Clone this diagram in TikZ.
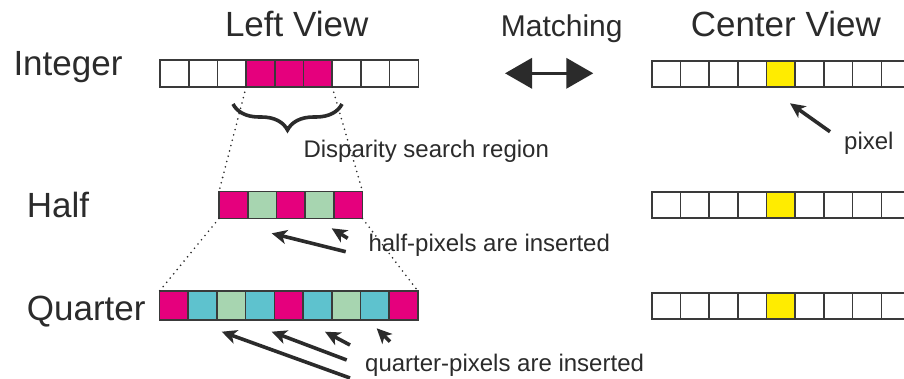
\documentclass[tikz,border=0pt]{standalone}
\usepackage{fontspec}
\setmainfont{Liberation Sans}
\usetikzlibrary{arrows.meta,decorations.pathreplacing}
\definecolor{mag}{HTML}{E5007D}
\definecolor{grn}{HTML}{A7D5B0}
\definecolor{cyn}{HTML}{5EC2CE}
\definecolor{yel}{HTML}{FFEC00}
\definecolor{ink}{HTML}{2B2B2B}
\definecolor{edge}{HTML}{3A3A3A}
\begin{document}
\begin{tikzpicture}[x=1pt,y=-1pt,
 cell/.style={draw=edge, line width=1.6pt, minimum width=28.7pt, minimum height=27pt, inner sep=0pt, outer sep=0pt, anchor=west},
 ccell/.style={cell, minimum height=26pt},
 big/.style={font=\fontsize{35}{40}\selectfont, text=ink, inner sep=0pt},
 mid/.style={font=\fontsize{30}{34}\selectfont, text=ink, inner sep=0pt},
 small/.style={font=\fontsize{24}{28}\selectfont, text=ink, inner sep=0pt},
 ptr/.style={draw=ink, line width=3.6pt, -{Stealth[length=15pt,width=14pt,inset=4pt]}},
 guide/.style={draw=ink, line width=1.8pt, dash pattern=on 0pt off 5.5pt, line cap=round},
 dbl/.style={draw=ink, line width=3.6pt, {Triangle[length=27pt,width=30pt]}-{Triangle[length=27pt,width=30pt]}}]
\useasboundingbox (0,0) rectangle (904,378);
\clip (0,0) rectangle (904,378);
\fill[white] (0,0) rectangle (904,378);

% left view rows
\foreach \k/\c in {1/white,2/white,3/white,4/mag,5/mag,6/mag,7/white,8/white,9/white}
  \node[cell, fill=\c] (i\k) at ({160+28.7*(\k-1)},73.5) {};
\foreach \k/\c in {1/mag,2/grn,3/mag,4/grn,5/mag}
  \node[cell, fill=\c] (h\k) at ({219+28.7*(\k-1)},205) {};
\foreach \k/\c in {1/mag,2/cyn,3/grn,4/cyn,5/mag,6/cyn,7/grn,8/cyn,9/mag}
  \node[cell, fill=\c, minimum height=29pt] (q\k) at ({159.5+28.7*(\k-1)},305.5) {};

% center view rows
\foreach \k/\c in {1/white,2/white,3/white,4/white,5/yel,6/white,7/white,8/white,9/white}{
  \node[ccell, fill=\c] (ca\k) at ({651.7+28.7*(\k-1)},74) {};
  \node[ccell, fill=\c] (cb\k) at ({651.7+28.7*(\k-1)},204.7) {};
  \node[ccell, fill=\c] (cc\k) at ({651.7+28.7*(\k-1)},306.2) {};
}

% dotted guides
\draw[guide] (i4.south west) -- (h1.north west);
\draw[guide] (i6.south east) -- (h5.north east);
\draw[guide] (h1.south west) -- (q1.north west);
\draw[guide] (h5.south east) -- (q9.north east);

% brace
\coordinate (brL) at (233,104);
\coordinate (brR) at (342,104);
\draw[ink, line width=3.6pt, decorate, decoration={brace, amplitude=26pt, mirror}] (brL) -- (brR);

% titles and labels
\node[big, anchor=base] (tLeft) at (296.7,36) {Left View};
\node[big, anchor=base] (tCenter) at (785.8,36) {Center View};
\node[mid, anchor=base] (tMatch) at (561.7,36.7) {Matching};
\node[big, anchor=base west] (lInt) at (13.3,75) {Integer};
\node[big, anchor=base west] (lHalf) at (26.7,217.3) {Half};
\node[big, anchor=base west] (lQ) at (26.7,320) {Quarter};

\node[small, anchor=base west] (tDisp) at (303.3,157.3) {Disparity search region};
\node[small, anchor=base west] (tHalfIns) at (368.3,251.7) {half-pixels are inserted};
\node[small, anchor=base west] (tQIns) at (365,371.7) {quarter-pixels are inserted};
\node[small, anchor=base west] (tPix) at (844,149.3) {pixel};

% matching arrow
\coordinate (mL) at (505,73.3);
\coordinate (mR) at (593.3,73.3);
\draw[dbl] (mL) -- (mR);

% pointer arrows
\coordinate (pxS) at (830,131.7); \coordinate (pxE) at (790,103.3);
\draw[ptr] (pxS) -- (pxE);
\coordinate (h1S) at (345.7,251.7); \coordinate (h1E) at (271.7,233.3);
\draw[ptr] (h1S) -- (h1E);
\coordinate (h2S) at (347.7,238.3); \coordinate (h2E) at (331.7,228.3);
\draw[ptr] (h2S) -- (h2E);
\coordinate (q1S) at (350,378); \coordinate (q1E) at (221.7,331.7);
\draw[ptr] (q1S) -- (q1E);
\coordinate (q2S) at (346.7,360); \coordinate (q2E) at (271.7,331.7);
\draw[ptr] (q2S) -- (q2E);
\coordinate (q3S) at (350,345); \coordinate (q3E) at (325,331.7);
\draw[ptr] (q3S) -- (q3E);
\coordinate (q4S) at (390,341.7); \coordinate (q4E) at (376.7,328.3);
\draw[ptr] (q4S) -- (q4E);
\end{tikzpicture}
\end{document}
